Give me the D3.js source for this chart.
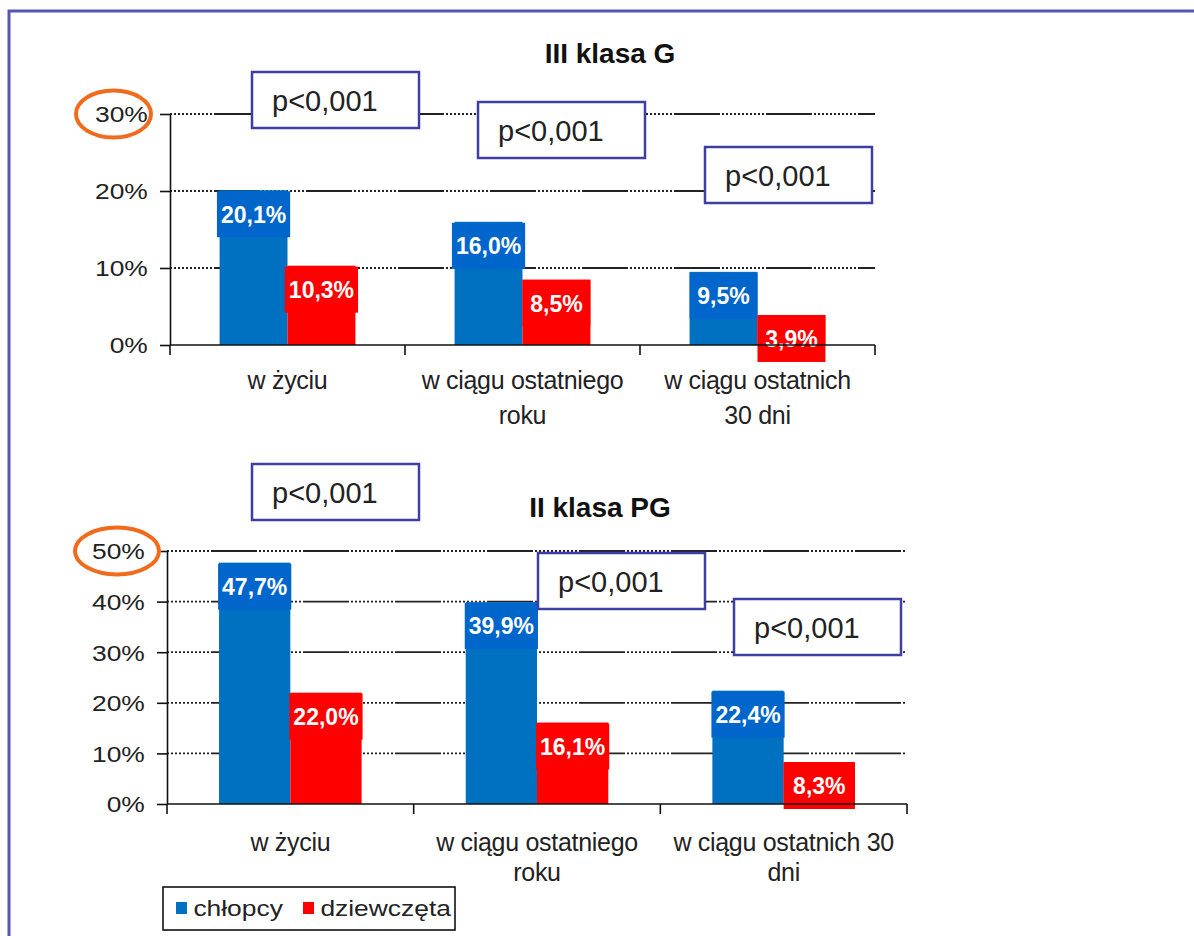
<!DOCTYPE html>
<html>
<head>
<meta charset="utf-8">
<script src="https://cdn.jsdelivr.net/npm/d3@7"></script>
<style>
  html, body { margin: 0; padding: 0; background: #fff; }
  svg { display: block; font-family: "Liberation Sans", Arial, sans-serif; }
</style>
</head>
<body>
<div id="chart"></div>
<script>
// data
const series = ['chłopcy', 'dziewczęta'];
const categoriesTop = [['w życiu'], ['w ciągu ostatniego', 'roku'], ['w ciągu ostatnich', '30 dni']];
const categoriesBottom = [['w życiu'], ['w ciągu ostatniego', 'roku'], ['w ciągu ostatnich 30', 'dni']];
const boysTop = [20.1, 16.0, 9.5];
const girlsTop = [10.3, 8.5, 3.9];
const boysBottom = [47.7, 39.9, 22.4];
const girlsBottom = [22.0, 16.1, 8.3];
const ticksTop = [0, 10, 20, 30];
const ticksBottom = [0, 10, 20, 30, 40, 50];
const pTop = ['p<0,001', 'p<0,001', 'p<0,001'];
const pBottom = ['p<0,001', 'p<0,001', 'p<0,001'];

const colors = { 'chłopcy': '#0070c0', 'dziewczęta': '#ff0000' };
const labelBg = { 'chłopcy': '#0066cc', 'dziewczęta': '#ff0000' };

const W = 1194, H = 936;
const svg = d3.select('#chart').append('svg').attr('width', W).attr('height', H);

// page frame
svg.append('path')
  .attr('d', `M9,${H} V11 H${W}`)
  .attr('fill', 'none').attr('stroke', '#5656b4').attr('stroke-width', 3);

// dotted section then a solid dash
const dash = [46, 2].concat(d3.range(11).flatMap(() => [2, 2])).join(',');
const fmt = v => d3.format('.1f')(v).replace('.', ',') + '%';

function drawChart(cfg) {
  const g = svg.append('g');
  const keys = cfg.cats.map(c => c.join(' '));
  const x = d3.scaleBand().domain(keys).range([cfg.left, cfg.right]);
  const xs = d3.scaleBand().domain(series).range([0, x.bandwidth()]).paddingOuter(0.73);
  const y = d3.scaleLinear().domain([0, cfg.max]).range([cfg.bottom, cfg.top]);

  // title
  g.append('text')
    .attr('x', cfg.titleX).attr('y', cfg.titleY)
    .attr('text-anchor', 'middle')
    .style('font-size', '28px').style('font-weight', 'bold').attr('fill', '#111')
    .text(cfg.title);

  // gridlines
  g.append('g').selectAll('line')
    .data(cfg.ticks.filter(t => t > 0))
    .join('line')
      .attr('x1', cfg.left).attr('x2', cfg.right)
      .attr('y1', d => y(d)).attr('y2', d => y(d))
      .attr('stroke', '#222').attr('stroke-width', 1.8)
      .attr('stroke-dasharray', dash).attr('stroke-dashoffset', 48);

  // y axis
  const yAxis = g.append('g')
    .attr('transform', `translate(${cfg.left},0)`)
    .call(d3.axisLeft(y).tickValues(cfg.ticks).tickSize(10).tickSizeOuter(0).tickFormat(d => d + '%'));
  yAxis.select('.domain').attr('stroke', '#111').attr('stroke-width', 1.6);
  yAxis.selectAll('.tick line').attr('stroke', '#111').attr('stroke-width', 1.6);
  yAxis.selectAll('.tick text')
    .attr('x', -18.5).attr('dy', '0.36em')
    .attr('transform', 'scale(1.2,1)')
    .attr('fill', '#222')
    .style('font-size', '22px');

  // bars
  const rows = keys.flatMap((k, i) => [
    { cat: k, s: series[0], v: cfg.boys[i] },
    { cat: k, s: series[1], v: cfg.girls[i] }
  ]);
  g.append('g').selectAll('rect')
    .data(rows)
    .join('rect')
      .attr('x', d => x(d.cat) + xs(d.s))
      .attr('y', d => y(d.v))
      .attr('width', xs.bandwidth())
      .attr('height', d => y(0) - y(d.v))
      .attr('fill', d => colors[d.s]);

  // value labels with their coloured boxes
  const lab = g.append('g').selectAll('g')
    .data(rows)
    .join('g')
      .attr('transform', d => `translate(${x(d.cat) + xs(d.s) + xs.bandwidth() / 2},${y(d.v) + 24})`);
  lab.append('text')
    .attr('text-anchor', 'middle').attr('dy', '0.36em')
    .attr('fill', '#fff')
    .style('font-size', '23px').style('font-weight', 'bold')
    .text(d => fmt(d.v));
  lab.each(function (d) {
    const t = d3.select(this).select('text');
    const w = Math.max(xs.bandwidth(), t.node().getComputedTextLength() + 8);
    d3.select(this).insert('rect', 'text')
      .attr('x', -w / 2).attr('y', -23)
      .attr('width', w).attr('height', 46)
      .attr('fill', labelBg[d.s]);
  });

  // x axis baseline and category ticks
  g.append('line')
    .attr('x1', cfg.left).attr('x2', cfg.right)
    .attr('y1', y(0)).attr('y2', y(0))
    .attr('stroke', '#111').attr('stroke-width', 1.6);
  g.append('g').selectAll('line')
    .data(keys.map(k => x(k)).concat([cfg.right]))
    .join('line')
      .attr('x1', d => d).attr('x2', d => d)
      .attr('y1', y(0)).attr('y2', y(0) + 10)
      .attr('stroke', '#111').attr('stroke-width', 1.6);

  // category labels
  g.append('g').selectAll('text')
    .data(cfg.cats)
    .join('text')
      .attr('text-anchor', 'middle')
      .attr('fill', '#222')
      .style('font-size', '25px')
      .style('letter-spacing', '-0.3px')
      .each(function (lines, i) {
        const cx = x(keys[i]) + x.bandwidth() / 2;
        d3.select(this).selectAll('tspan')
          .data(lines)
          .join('tspan')
            .attr('x', cx)
            .attr('y', (l, j) => y(0) + cfg.labelOffset + j * cfg.lineHeight)
            .text(l => l);
      });

  // p-value boxes
  const pb = g.append('g').selectAll('g')
    .data(cfg.p.map((t, i) => ({ t, box: cfg.pBoxes[i] })))
    .join('g')
      .attr('transform', d => `translate(${d.box[0]},${d.box[1]})`);
  pb.append('rect')
    .attr('width', 167).attr('height', 56)
    .attr('fill', '#fff').attr('stroke', '#3f3fa3').attr('stroke-width', 2.5);
  pb.append('text')
    .attr('x', 20).attr('y', 39)
    .attr('fill', '#222')
    .style('font-size', '29px')
    .text(d => d.t);

  // orange ring around the top tick label
  g.append('ellipse')
    .attr('cx', cfg.ring[0]).attr('cy', y(cfg.max))
    .attr('rx', cfg.ring[1]).attr('ry', 23.5)
    .attr('fill', 'none').attr('stroke', '#f26b1d').attr('stroke-width', 4);
}

drawChart({
  title: 'III klasa G', titleX: 610, titleY: 63,
  cats: categoriesTop, boys: boysTop, girls: girlsTop,
  ticks: ticksTop, max: 30,
  left: 170, right: 875, top: 114, bottom: 345,
  labelOffset: 44, lineHeight: 35,
  p: pTop, pBoxes: [[252, 72], [478, 102], [705, 147]],
  ring: [113.5, 37.5]
});

drawChart({
  title: 'II klasa PG', titleX: 600, titleY: 517,
  cats: categoriesBottom, boys: boysBottom, girls: girlsBottom,
  ticks: ticksBottom, max: 50,
  left: 167, right: 907, top: 551, bottom: 804,
  labelOffset: 47, lineHeight: 30,
  p: pBottom, pBoxes: [[252, 464], [538, 553], [734, 599]],
  ring: [117, 42]
});

// legend
const legend = svg.append('g').attr('transform', 'translate(163,887)');
legend.append('rect')
  .attr('width', 292).attr('height', 43)
  .attr('fill', '#fff').attr('stroke', '#111').attr('stroke-width', 1.6);
const legX = [13, 140];
const item = legend.selectAll('g.item')
  .data(series)
  .join('g')
    .attr('class', 'item')
    .attr('transform', (d, i) => `translate(${legX[i]},0)`);
item.append('rect')
  .attr('y', 15).attr('width', 11).attr('height', 12)
  .attr('fill', d => colors[d]);
item.append('text')
  .attr('x', 14.5).attr('y', 29)
  .attr('transform', 'scale(1.2,1)')
  .attr('fill', '#222')
  .style('font-size', '22px')
  .text(d => d);
</script>
</body>
</html>
